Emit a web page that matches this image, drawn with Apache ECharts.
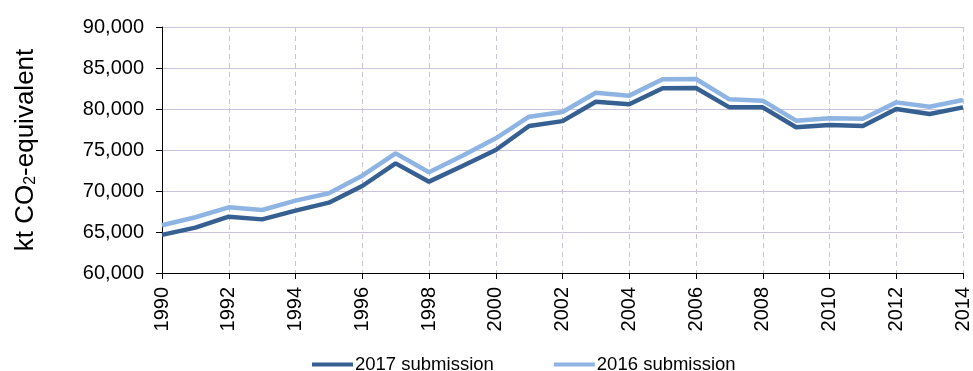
<!DOCTYPE html>
<html>
<head>
<meta charset="utf-8">
<script src="https://cdn.jsdelivr.net/npm/echarts@6/dist/echarts.min.js"></script>
<style>
html,body{margin:0;padding:0;background:#fff;}
#chart{width:973px;height:371px;}
</style>
</head>
<body>
<div id="chart"></div>
<script>
const years = ['1990','1991','1992','1993','1994','1995','1996','1997','1998','1999','2000','2001','2002','2003','2004','2005','2006','2007','2008','2009','2010','2011','2012','2013','2014'];
const sub2017 = [64650,65530,66870,66540,67600,68580,70610,73370,71140,73050,75000,77930,78520,80890,80570,82520,82560,80200,80200,77770,78050,77930,80000,79390,80200];
const sub2016 = [65820,66800,68010,67680,68820,69720,71870,74590,72280,74310,76430,79060,79640,81990,81630,83620,83660,81180,81020,78580,78860,78820,80810,80280,81100];
const yTicks = [60000,65000,70000,75000,80000,85000,90000];
const seriesNames = ['2017 submission','2016 submission'];

const chart = echarts.init(document.getElementById('chart'));
const gridColor = '#CBC3DD';
chart.setOption({
  animation: false,
  textStyle: {fontFamily: 'Liberation Sans, Arial, sans-serif'},
  grid: {left: 162, right: 10, top: 27, bottom: 98, containLabel: false},
  legend: {
    data: seriesNames,
    left: 307, top: 350,
    icon: 'rect', itemWidth: 41, itemHeight: 4, itemGap: 60,
    textStyle: {fontSize: 18.5, color: '#000', padding: [0,0,0,-3]}
  },
  xAxis: {
    type: 'category', data: years, boundaryGap: false,
    axisLine: {lineStyle: {color: '#000', width: 1}},
    axisTick: {show: true, interval: 1, length: 6, lineStyle: {color: '#000'}},
    axisLabel: {interval: 1, rotate: 90, fontSize: 20, color: '#000', margin: 14},
    splitLine: {show: true, interval: 1, lineStyle: {color: gridColor, type: [5,4], width: 1}}
  },
  yAxis: {
    type: 'value', min: yTicks[0], max: yTicks[yTicks.length-1], interval: 5000,
    name: 'kt CO{sub|2}-equivalent', nameLocation: 'middle', nameGap: 123,
    nameTextStyle: {fontSize: 26, color: '#000', rich: {sub: {fontSize: 16, verticalAlign: 'bottom', padding: [11,0,0,0], color:'#000'}}},
    axisLine: {show: true, lineStyle: {color: '#000', width: 1}},
    axisTick: {show: true, length: 6, lineStyle: {color: '#000'}},
    axisLabel: {fontSize: 20, color: '#000', margin: 18, formatter: v => v.toLocaleString('en-US')},
    splitLine: {show: true, lineStyle: {color: gridColor, width: 1}}
  },
  series: [
    {name: seriesNames[0], type: 'line', data: sub2017, symbol: 'none', lineStyle: {color: '#376092', width: 4.5}, itemStyle: {color: '#376092'}, z: 3},
    {name: seriesNames[1], type: 'line', data: sub2016, symbol: 'none', lineStyle: {color: '#8DB4E3', width: 4.5}, itemStyle: {color: '#8DB4E3'}, z: 2}
  ]
});
</script>
</body>
</html>
